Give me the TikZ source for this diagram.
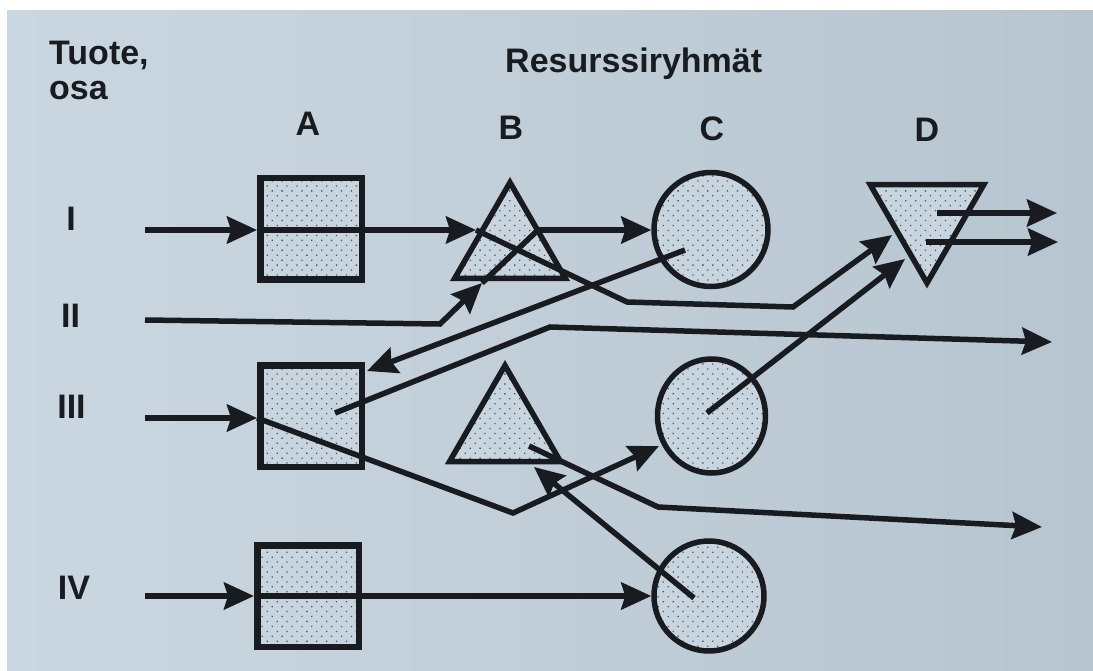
\documentclass[tikz,border=0pt]{standalone}
\usepackage{fontspec}
\setmainfont{Liberation Sans}
\usetikzlibrary{arrows.meta,shapes.geometric,patterns.meta}

\definecolor{paperL}{HTML}{CBD7E0}
\definecolor{paperR}{HTML}{B7C5D0}
\definecolor{ink}{HTML}{181B20}
\definecolor{cellfill}{HTML}{C9D5DE}
\definecolor{dotcol}{HTML}{4A5560}

\begin{document}
\begin{tikzpicture}[x=1pt,y=-1pt,
  lbl/.style={inner sep=0pt, text=ink, font=\bfseries\fontsize{34}{40}\selectfont},
  res/.style={draw=ink, preaction={fill=cellfill},
    pattern={Dots[distance=7pt,angle=45,radius=0.9pt]}, pattern color=dotcol, inner sep=0pt},
  sq/.style={res, rectangle, line width=6.5pt, minimum size=101.5pt},
  tri/.style={res, regular polygon, regular polygon sides=3, line width=5.5pt, minimum size=128pt},
  ring/.style={res, circle, line width=5.5pt},
  flow/.style={draw=ink, line width=5.5pt},
  arr/.style={flow, -{Stealth[length=30pt,width=27pt,inset=4pt]}},
]
% page
\shade[left color=paperL, right color=paperR] (0,0) rectangle (1093,671);
\fill[white] (0,0) rectangle (1093,10);
\fill[white] (0,0) rectangle (7,671);
\useasboundingbox (0,0) rectangle (1093,671);

% headings
\node[lbl, anchor=base west] (tuote) at (49,65) {Tuote,};
\node[lbl, anchor=base west] (osa) at (49,100) {osa};
\node[lbl, anchor=base west] (groups) at (505,72.5) {Resurssiryhmät};
\node[lbl, anchor=base] (hA) at (308,136) {A};
\node[lbl, anchor=base] (hB) at (511,139.5) {B};
\node[lbl, anchor=base] (hC) at (712,140.5) {C};
\node[lbl, anchor=base] (hD) at (927,141.5) {D};
\node[lbl, anchor=base] (rI) at (71,231) {I};
\node[lbl, anchor=base] (rII) at (70.5,327) {II};
\node[lbl, anchor=base] (rIII) at (71.5,418) {III};
\node[lbl, anchor=base] (rIV) at (74,599) {IV};

% resource groups
\node[sq] (A1) at (311,229) {};
\node[sq] (A2) at (311,416) {};
\node[sq] (A3) at (308,596) {};
\node[tri] (B1) at (510,246.5) {};
\node[tri] (B2) at (505,429.5) {};
\node[ring, minimum size=114pt] (C1) at (711,229.5) {};
\node[ring, ellipse, minimum width=108pt, minimum height=114pt] (C2) at (711.5,416) {};
\node[ring, minimum size=110pt] (C3) at (709,596) {};
\node[tri, shape border rotate=180, minimum size=131pt] (D) at (927,217.5) {};

% route points
\coordinate (Iin) at (145,230);
\coordinate (IIin) at (145,320);
\coordinate (IIIin) at (145,418);
\coordinate (IVin) at (145,596);
\coordinate (B1l) at (476,230);
\coordinate (B1b) at (482,283);
\coordinate (B1r) at (538,230);
\coordinate (IIk) at (440,324);
\coordinate (Ik1) at (627,302);
\coordinate (Ik2) at (793,307);
\coordinate (Dl1) at (892,235);
\coordinate (Dl2) at (905,259);
\coordinate (Do1) at (937,213);
\coordinate (Do2) at (926,242);
\coordinate (out1) at (1057,213);
\coordinate (out2) at (1058,242);
\coordinate (C1s) at (685,250);
\coordinate (A2t) at (367,371);
\coordinate (A2s) at (335,413);
\coordinate (A2k) at (550,327);
\coordinate (outII) at (1052,342);
\coordinate (IIIk) at (513,513);
\coordinate (C2l) at (659,446);
\coordinate (C2s) at (707,413);
\coordinate (C3s) at (694,598);
\coordinate (B2b) at (534,467);
\coordinate (B2s) at (529,446);
\coordinate (B2k) at (658,507);
\coordinate (outIII) at (1042,527);

% routes
\draw[arr] (Iin) -- (A1.west |- Iin);
\draw[arr] (A1.west |- Iin) -- (B1l);
\draw[arr] (B1l) -- (Ik1) -- (Ik2) -- (Dl1);
\draw[arr] (IIin) -- (IIk) -- (B1b);
\draw[flow] (B1b) -- (B1r);
\draw[arr] (B1r) -- (C1.west |- B1r);
\draw[arr] (C1s) -- (A2t);
\draw[arr] (A2s) -- (A2k) -- (outII);
\draw[arr] (IIIin) -- (A2.west |- IIIin);
\draw[arr] (A2.west |- IIIin) -- (IIIk) -- (C2l);
\draw[arr] (C2s) -- (Dl2);
\draw[arr] (C3s) -- (B2b);
\draw[arr] (B2s) -- (B2k) -- (outIII);
\draw[arr] (IVin) -- (A3.west |- IVin);
\draw[arr] (A3.west |- IVin) -- (C3.west |- IVin);
\draw[arr] (Do1) -- (out1);
\draw[arr] (Do2) -- (out2);
\end{tikzpicture}
\end{document}
